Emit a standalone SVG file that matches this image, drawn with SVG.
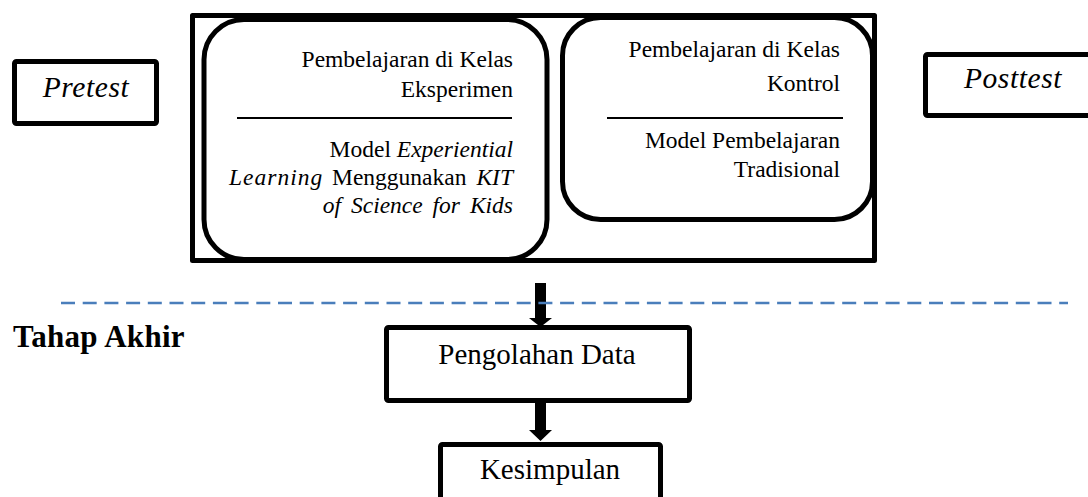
<svg xmlns="http://www.w3.org/2000/svg" width="1088" height="497" viewBox="0 0 1088 497">
<style>
.box{fill:none;stroke:#000;stroke-width:5;stroke-linejoin:round}
.wbox{fill:#fff;stroke:#000;stroke-width:5;stroke-linejoin:round}
.t{font-family:"Liberation Serif","Times New Roman",serif;fill:#000}
.s{font-size:23.5px}
.b{font-size:29px}
.i{font-style:italic}
.sep{stroke:#000;stroke-width:2}
.arrow{fill:#000}
.dash{stroke:#4A7EBB;stroke-width:2.5;stroke-dasharray:14 7.7;fill:none}
</style>
<rect width="1088" height="497" fill="#fff"/>
<g id="pretest">
<rect class="wbox" x="14.5" y="61.5" width="142" height="62" rx="2"/>
<text class="t i" x="86" y="97" font-size="29.5" letter-spacing="0.6" text-anchor="middle">Pretest</text>
</g>
<g id="treatment">
<rect class="box" x="192.5" y="15.5" width="682" height="245"/>
</g>
<g id="eksperimen">
<rect class="box" x="204" y="19.5" width="343" height="240" rx="40" ry="40"/>
<text class="t s" x="513" y="67" text-anchor="end">Pembelajaran di Kelas</text>
<text class="t s" x="513" y="97" text-anchor="end">Eksperimen</text>
<line class="sep" x1="237" y1="118" x2="512" y2="118"/>
<text class="t s" x="513" y="157" text-anchor="end">Model <tspan class="i">Experiential</tspan></text>
<text class="t s i" x="229" y="185" letter-spacing="1">Learning</text>
<text class="t s" x="332" y="185">Menggunakan</text>
<text class="t s i" x="513" y="185" text-anchor="end">KIT</text>
<text class="t s i" x="513" y="213" text-anchor="end" word-spacing="4">of Science for Kids</text>
</g>
<g id="kontrol">
<rect class="box" x="562.5" y="17.5" width="310" height="202" rx="38" ry="38"/>
<text class="t s" x="840" y="57" text-anchor="end">Pembelajaran di Kelas</text>
<text class="t s" x="840" y="91" text-anchor="end">Kontrol</text>
<line class="sep" x1="607" y1="118" x2="843" y2="118"/>
<text class="t s" x="840" y="148" text-anchor="end">Model Pembelajaran</text>
<text class="t s" x="840" y="177" text-anchor="end">Tradisional</text>
</g>
<g id="posttest">
<rect class="wbox" x="925.5" y="54.5" width="185" height="61" rx="2"/>
<text class="t i" x="1013" y="88" font-size="29.5" letter-spacing="0.6" text-anchor="middle">Posttest</text>
</g>
<g id="tahap-akhir">
<text class="t" x="13" y="347" font-size="31" font-weight="bold" letter-spacing="0.3">Tahap Akhir</text>
</g>
<g id="pengolahan">
<rect class="wbox" x="386.5" y="327.5" width="303" height="73" rx="2"/>
<text class="t b" x="537" y="364" text-anchor="middle">Pengolahan Data</text>
</g>
<g id="kesimpulan">
<rect class="wbox" x="440.5" y="444.5" width="220" height="70" rx="2"/>
<text class="t b" x="550" y="479" text-anchor="middle">Kesimpulan</text>
</g>
<g id="connectors">
<polygon class="arrow" points="535,283 546,283 546,318 552,318 540.5,327 529,318 535,318"/>
<polygon class="arrow" points="535,403 546,403 546,430 552,430 540.5,441 529,430 535,430"/>
<line class="dash" x1="61" y1="303" x2="1068" y2="303"/>
</g>
</svg>
